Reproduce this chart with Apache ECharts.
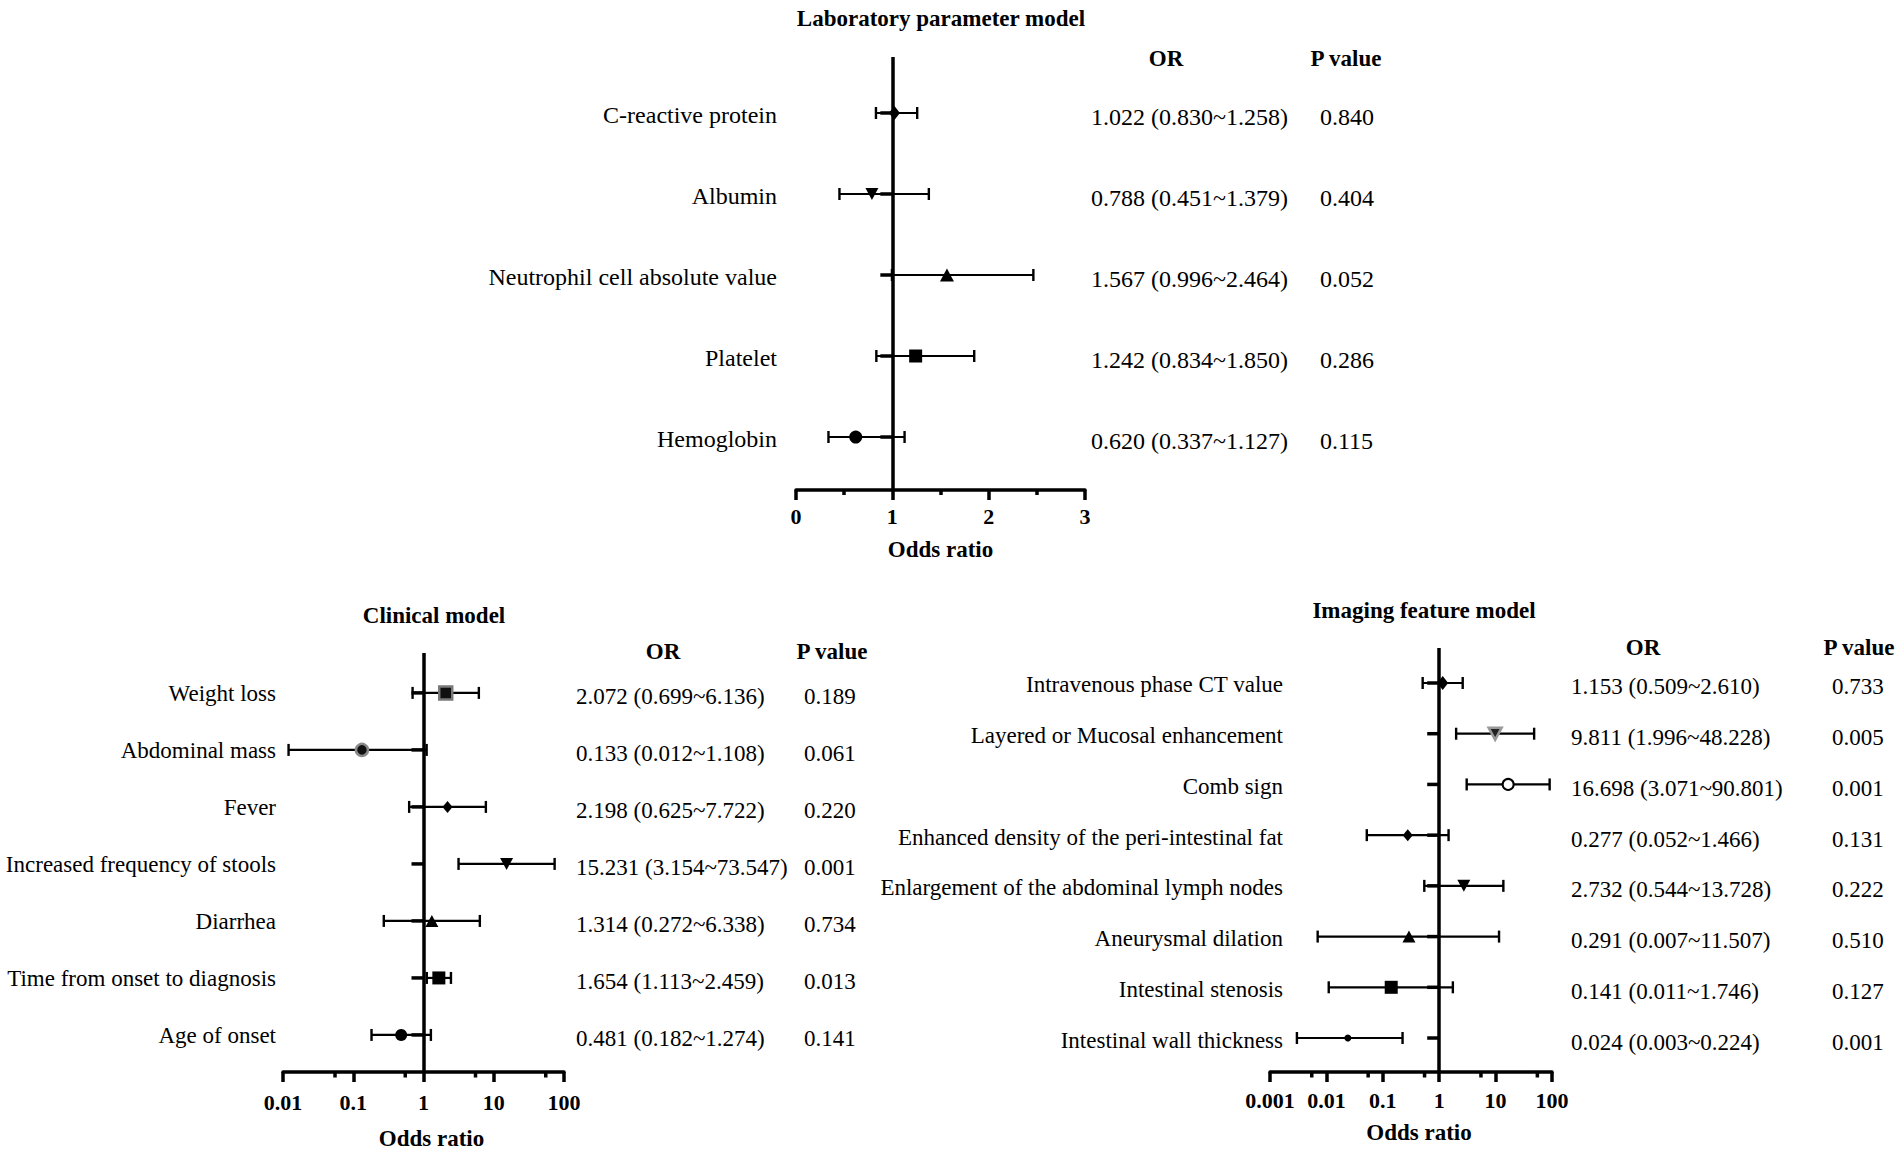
<!DOCTYPE html>
<html>
<head>
<meta charset="utf-8">
<script src="https://cdn.jsdelivr.net/npm/echarts@6/dist/echarts.min.js"></script>
<style>html,body{margin:0;padding:0;background:#fff}#chart{width:1901px;height:1153px}</style>
</head>
<body>
<div id="chart"></div>
<script>
// ---------- Data ----------
const labNames = ['C-reactive protein', 'Albumin', 'Neutrophil cell absolute value', 'Platelet', 'Hemoglobin'];
const labOR   = [1.022, 0.788, 1.567, 1.242, 0.620];
const labLow  = [0.830, 0.451, 0.996, 0.834, 0.337];
const labHigh = [1.258, 1.379, 2.464, 1.850, 1.127];
const labP    = ['0.840', '0.404', '0.052', '0.286', '0.115'];
const labTicks = [0, 1, 2, 3];

const clinNames = ['Weight loss', 'Abdominal mass', 'Fever', 'Increased frequency of stools', 'Diarrhea', 'Time from onset to diagnosis', 'Age of onset'];
const clinOR   = [2.072, 0.133, 2.198, 15.231, 1.314, 1.654, 0.481];
const clinLow  = [0.699, 0.012, 0.625, 3.154, 0.272, 1.113, 0.182];
const clinHigh = [6.136, 1.108, 7.722, 73.547, 6.338, 2.459, 1.274];
const clinP    = ['0.189', '0.061', '0.220', '0.001', '0.734', '0.013', '0.141'];
const clinTicks = [0.01, 0.1, 1, 10, 100];
const clinMinorTicks = [0.055, 0.55, 5.5, 55];

const imgNames = ['Intravenous phase CT value', 'Layered or Mucosal enhancement', 'Comb sign', 'Enhanced density of the peri-intestinal fat', 'Enlargement of the abdominal lymph nodes', 'Aneurysmal dilation', 'Intestinal stenosis', 'Intestinal wall thickness'];
const imgOR   = [1.153, 9.811, 16.698, 0.277, 2.732, 0.291, 0.141, 0.024];
const imgLow  = [0.509, 1.996, 3.071, 0.052, 0.544, 0.007, 0.011, 0.003];
const imgHigh = [2.610, 48.228, 90.801, 1.466, 13.728, 11.507, 1.746, 0.224];
const imgP    = ['0.733', '0.005', '0.001', '0.131', '0.222', '0.510', '0.127', '0.001'];
const imgTicks = [0.001, 0.01, 0.1, 1, 10, 100];
const imgMinorTicks = [0.0055, 0.055, 0.55, 5.5, 55];

// ---------- Marker styles ----------
const labMarkers = [
  {symbol: 'diamond', size: [11, 14]},
  {symbol: 'triangle', size: [13, 12], rotate: 180},
  {symbol: 'triangle', size: [14, 13]},
  {symbol: 'rect', size: 13},
  {symbol: 'circle', size: 13}
];
const clinMarkers = [
  {symbol: 'rect', size: 13, color: '#111', border: '#7a7a7a', bw: 2.5},
  {symbol: 'circle', size: 12, color: '#111', border: '#8a8a8a', bw: 2.5},
  {symbol: 'diamond', size: [10, 12]},
  {symbol: 'triangle', size: [13, 12], rotate: 180},
  {symbol: 'triangle', size: [13, 12]},
  {symbol: 'rect', size: 13},
  {symbol: 'circle', size: 12}
];
const imgMarkers = [
  {symbol: 'diamond', size: [11, 14]},
  {symbol: 'triangle', size: [13, 12], rotate: 180, color: '#222', border: '#999', bw: 2.5},
  {symbol: 'circle', size: 11, color: '#fff', border: '#000', bw: 2},
  {symbol: 'diamond', size: [10, 12]},
  {symbol: 'triangle', size: [13, 12], rotate: 180},
  {symbol: 'triangle', size: [13, 12]},
  {symbol: 'rect', size: 13},
  {symbol: 'circle', size: 7}
];

const FONT = '"Liberation Serif", "Times New Roman", serif';

const panels = [
  {names: labNames, or: labOR, lo: labLow, hi: labHigh, p: labP, markers: labMarkers,
   labelRight: 777, orLeft: 1091, pLeft: 1320, labelDy: 2, valueDy: 4, fontSize: 24, minor: null},
  {names: clinNames, or: clinOR, lo: clinLow, hi: clinHigh, p: clinP, markers: clinMarkers,
   labelRight: 276, orLeft: 576, pLeft: 804, labelDy: 1, valueDy: 4, fontSize: 23, minor: clinMinorTicks},
  {names: imgNames, or: imgOR, lo: imgLow, hi: imgHigh, p: imgP, markers: imgMarkers,
   labelRight: 1283, orLeft: 1571, pLeft: 1832, labelDy: 2, valueDy: 4, fontSize: 23, minor: imgMinorTicks}
];

function fmt(v) { return v.toFixed(3); }

const grids = [
  {left: 796, top: 57, width: 289, height: 433},
  {left: 283, top: 653, width: 281, height: 419},
  {left: 1270, top: 648, width: 282, height: 424}
];
const yRanges = [[-0.691, 4.654], [-0.70, 6.65], [-0.69, 7.67]];

const axisLineStyle = {color: '#000', width: 3.5};
const labelStyle = {color: '#000', fontSize: 22, fontWeight: 'bold', fontFamily: FONT};
const nameStyle = {color: '#000', fontSize: 23, fontWeight: 'bold', fontFamily: FONT};

const xAxes = [
  {
    gridIndex: 0, type: 'value', min: labTicks[0], max: labTicks[labTicks.length - 1], interval: 1,
    axisLine: {show: true, onZero: false, lineStyle: axisLineStyle},
    axisTick: {show: true, length: 10, lineStyle: axisLineStyle},
    minorTick: {show: true, splitNumber: 2, length: 5, lineStyle: axisLineStyle},
    splitLine: {show: false}, minorSplitLine: {show: false},
    axisLabel: Object.assign({margin: 15}, labelStyle),
    name: 'Odds ratio', nameLocation: 'middle', nameGap: 48, nameTextStyle: nameStyle
  },
  {
    gridIndex: 1, type: 'log', logBase: 10, min: clinTicks[0], max: clinTicks[clinTicks.length - 1],
    axisLine: {show: true, onZero: false, lineStyle: axisLineStyle},
    axisTick: {show: true, length: 10, lineStyle: axisLineStyle},
    splitLine: {show: false},
    axisLabel: Object.assign({margin: 19, formatter: v => String(Number((+v).toPrecision(6)))}, labelStyle),
    name: 'Odds ratio', nameLocation: 'middle', nameGap: 55,
    nameTextStyle: Object.assign({padding: [0, 0, 0, 16]}, nameStyle)
  },
  {
    gridIndex: 2, type: 'log', logBase: 10, min: imgTicks[0], max: imgTicks[imgTicks.length - 1],
    axisLine: {show: true, onZero: false, lineStyle: axisLineStyle},
    axisTick: {show: true, length: 10, lineStyle: axisLineStyle},
    splitLine: {show: false},
    axisLabel: Object.assign({margin: 17, formatter: v => String(Number((+v).toPrecision(6)))}, labelStyle),
    name: 'Odds ratio', nameLocation: 'middle', nameGap: 49,
    nameTextStyle: Object.assign({padding: [0, 0, 0, 16]}, nameStyle)
  }
];

const yAxes = yRanges.map((r, k) => ({
  gridIndex: k, type: 'value', inverse: true, min: r[0], max: r[1], show: false
}));

const series = [];
panels.forEach((pn, k) => {
  // error bars + labels
  series.push({
    type: 'custom', xAxisIndex: k, yAxisIndex: k, silent: true, z: 2,
    data: pn.lo.map((v, i) => [v, pn.hi[i], i]),
    encode: {x: [0, 1], y: 2},
    renderItem: function (params, api) {
      const idx = params.dataIndex;
      const lo = api.value(0), hi = api.value(1), row = api.value(2);
      const a = api.coord([lo, row]), b = api.coord([hi, row]), r = api.coord([1, row]);
      const y = a[1];
      const txt = (t, x, yy, align) => ({
        type: 'text',
        style: {text: t, x: x, y: yy, align: align, verticalAlign: 'middle',
                fontSize: pn.fontSize, fontFamily: FONT, fill: '#000'}
      });
      return {
        type: 'group',
        children: [
          {type: 'line', shape: {x1: a[0], y1: y, x2: b[0], y2: y}, style: {stroke: '#000', lineWidth: 2.2}},
          {type: 'line', shape: {x1: a[0], y1: y - 6, x2: a[0], y2: y + 6}, style: {stroke: '#000', lineWidth: 2.4}},
          {type: 'line', shape: {x1: b[0], y1: y - 6, x2: b[0], y2: y + 6}, style: {stroke: '#000', lineWidth: 2.4}},
          {type: 'line', shape: {x1: r[0] - 12, y1: y, x2: r[0], y2: y}, style: {stroke: '#000', lineWidth: 3.5}},
          txt(pn.names[idx], pn.labelRight, y + pn.labelDy, 'right'),
          txt(fmt(pn.or[idx]) + ' (' + fmt(pn.lo[idx]) + '~' + fmt(pn.hi[idx]) + ')', pn.orLeft, y + pn.valueDy, 'left'),
          txt(pn.p[idx], pn.pLeft, y + pn.valueDy, 'left')
        ]
      };
    },
    markLine: {
      silent: true, symbol: 'none', animation: false,
      label: {show: false},
      lineStyle: {color: '#000', width: 3.5, type: 'solid'},
      emphasis: {disabled: true},
      data: [{xAxis: 1}]
    }
  });
  // point estimates
  series.push({
    type: 'scatter', xAxisIndex: k, yAxisIndex: k, silent: true, z: 5,
    data: pn.or.map((v, i) => {
      const m = pn.markers[i];
      return {
        value: [v, i],
        symbol: m.symbol,
        symbolSize: m.size,
        symbolRotate: m.rotate || 0,
        itemStyle: {color: m.color || '#000', borderColor: m.border || m.color || '#000', borderWidth: m.bw || 0, opacity: 1}
      };
    })
  });
  // minor ticks on log axes
  if (pn.minor) {
    series.push({
      type: 'custom', xAxisIndex: k, yAxisIndex: k, silent: true, z: 3,
      data: pn.minor.map(v => [v, 0]),
      encode: {x: 0, y: 1},
      renderItem: function (params, api) {
        const x = api.coord([api.value(0), 0])[0];
        const yb = params.coordSys.y + params.coordSys.height;
        return {type: 'line', shape: {x1: x, y1: yb, x2: x, y2: yb + 5.5}, style: {stroke: '#000', lineWidth: 3.5}};
      }
    });
  }
});

const head = (t, x, y) => ({
  type: 'text', x: x, y: y, silent: true,
  style: {text: t, align: 'center', verticalAlign: 'middle', fontSize: 23, fontWeight: 'bold', fontFamily: FONT, fill: '#000'}
});

const option = {
  backgroundColor: '#fff',
  animation: false,
  grid: grids,
  xAxis: xAxes,
  yAxis: yAxes,
  series: series,
  graphic: [
    head('Laboratory parameter model', 941, 18),
    head('OR', 1166, 58),
    head('P value', 1346, 58),
    head('Clinical model', 434, 615),
    head('OR', 663, 651),
    head('P value', 832, 651),
    head('Imaging feature model', 1424, 610),
    head('OR', 1643, 647),
    head('P value', 1859, 647)
  ]
};

const chart = echarts.init(document.getElementById('chart'), null, {renderer: 'svg'});
chart.setOption(option);
</script>
</body>
</html>
